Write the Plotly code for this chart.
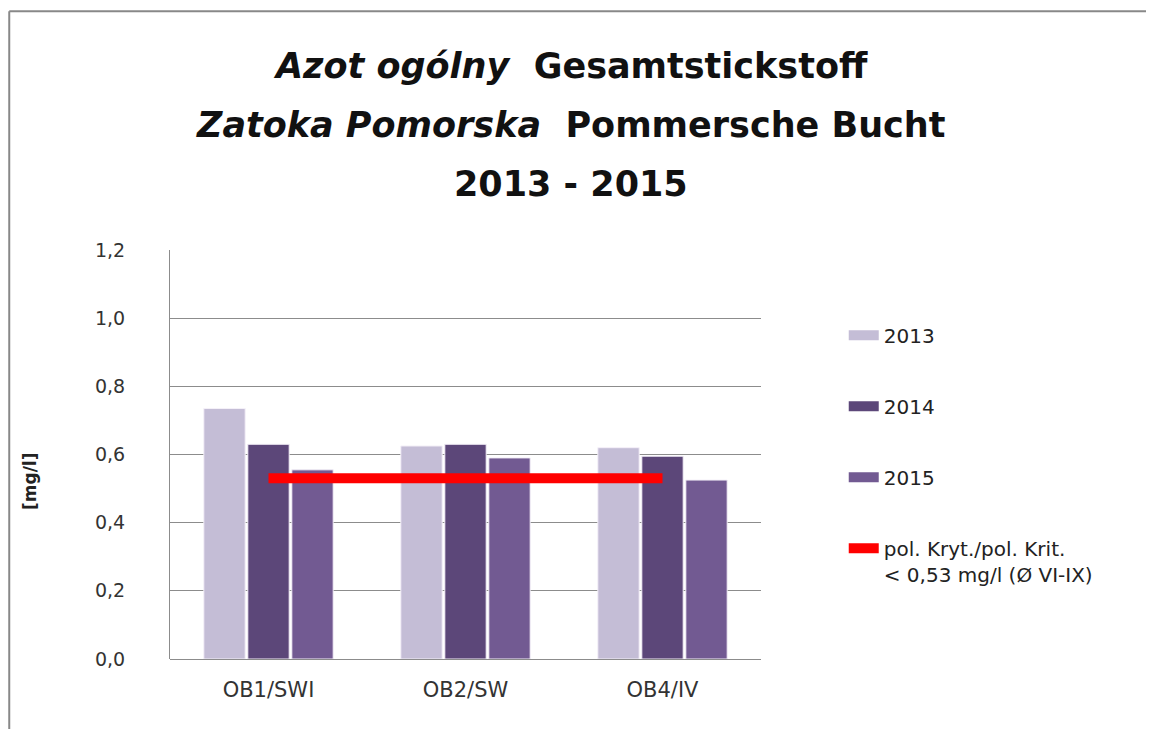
import plotly.graph_objects as go

categories = ["OB1/SWI", "OB2/SW", "OB4/IV"]
years = ["2013", "2014", "2015"]
values = {
    "2013": [0.735, 0.625, 0.62],
    "2014": [0.63, 0.63, 0.595],
    "2015": [0.555, 0.59, 0.525],
}
bar_colors = {"2013": "#c4bdd6", "2014": "#5c4779", "2015": "#725a92"}
limit_value = 0.53
limit_label = "pol. Kryt./pol. Krit.<br>< 0,53 mg/l (Ø VI-IX)"

FONT = "DejaVu Sans"

fig = go.Figure()
for i, yr in enumerate(years):
    fig.add_trace(go.Bar(
        x=categories, y=values[yr], name=yr,
        marker=dict(color=bar_colors[yr], line=dict(color="#f4f0f8", width=1)),
        showlegend=False,
    ))
    # wide legend swatch like the original
    fig.add_trace(go.Scatter(
        x=[None], y=[None], name=yr, mode="lines",
        line=dict(color=bar_colors[yr], width=13),
        legendgroup=f"g{i}",
    ))

fig.add_trace(go.Scatter(
    x=categories, y=[limit_value] * len(categories), name=limit_label,
    mode="lines", line=dict(color="#ff0000", width=10),
    legendgroup="g3",
))

# page body has an 8px margin, so the figure is a bit smaller than the window
fig.update_layout(
    width=1146, height=721,
    margin=dict(l=162, r=393, t=242, b=70),
    paper_bgcolor="white", plot_bgcolor="white",
    barmode="group", bargap=0.33, bargroupgap=0.06,
    separators=",.",
    font=dict(family=FONT, color="#222"),
    showlegend=True,
    legend=dict(
        x=1.14, y=0.839, xanchor="left", yanchor="top",
        font=dict(size=20, color="#222"),
        traceorder="grouped", tracegroupgap=42, valign="top",
        itemwidth=30,
    ),
)

fig.update_xaxes(
    showline=False, showgrid=False,
    tickfont=dict(size=21, color="#333"), ticks="", ticklabelstandoff=16,
)
fig.update_yaxes(
    range=[0, 1.2], dtick=0.2, tickformat=".1f",
    showgrid=True, gridcolor="#8c8c8c", gridwidth=1,
    showline=True, linecolor="#8c8c8c", linewidth=1,
    zeroline=True, zerolinecolor="#8c8c8c", zerolinewidth=1,
    tickfont=dict(size=19, color="#333"), ticks="", ticklabelstandoff=40,
)

fig.add_annotation(
    text="<b>[mg/l]</b>", xref="paper", yref="paper", x=(30 - 170) / 591, y=(659 - 482) / 409,
    xanchor="center", yanchor="middle", showarrow=False, textangle=-90,
    font=dict(size=17, color="#222"),
)

# outer frame of the chart (top and left edges visible)
fig.add_shape(type="line", xref="paper", yref="paper",
              x0=-0.272, x1=2.0, y0=1.584, y1=1.584,
              line=dict(color="#888", width=2), layer="below")
fig.add_shape(type="line", xref="paper", yref="paper",
              x0=-0.272, x1=-0.272, y0=1.584, y1=-0.3,
              line=dict(color="#888", width=2), layer="below")

titles = [
    "<b><i>Azot ogólny</i>  Gesamtstickstoff</b>",
    "<b><i>Zatoka Pomorska</i>  Pommersche Bucht</b>",
    "<b>2013 - 2015</b>",
]
for j, t in enumerate(titles):
    fig.add_annotation(
        text=t, xref="paper", yref="paper", x=0.678, y=(659 - (66 + 59 * j)) / 409,
        xanchor="center", yanchor="middle", showarrow=False,
        font=dict(size=35, color="#111", family=FONT),
    )

fig.write_html("out.html")
